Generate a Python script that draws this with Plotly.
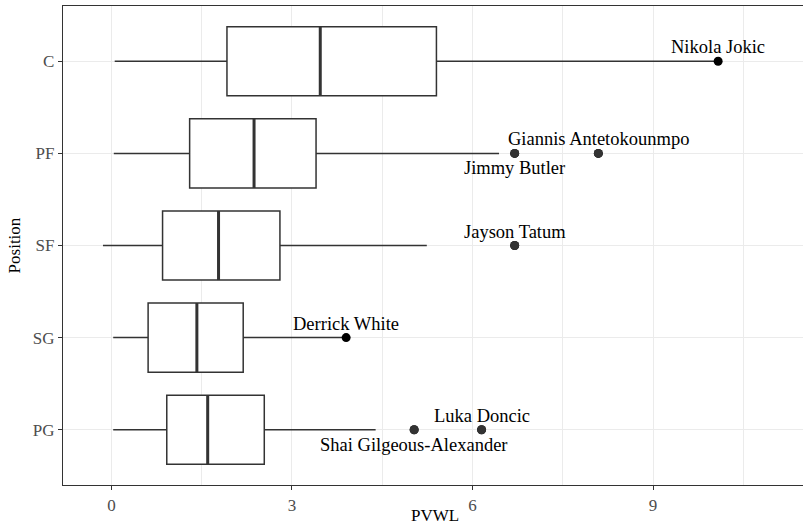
import plotly.graph_objects as go

# ---- data ----
positions = ["PG", "SG", "SF", "PF", "C"]
pos_index = [1, 2, 3, 4, 5]
q1 = [0.92, 0.61, 0.85, 1.30, 1.92]
median = [1.60, 1.42, 1.78, 2.37, 3.47]
q3 = [2.54, 2.19, 2.80, 3.40, 5.40]
lower_whisker = [0.03, 0.03, -0.14, 0.04, 0.055]
upper_whisker = [4.39, 3.90, 5.24, 6.44, 10.08]

outlier_pos = ["PG", "PG", "SF", "PF", "PF"]
outlier_x = [5.03, 6.15, 6.70, 6.70, 8.09]

player_names = ["Nikola Jokic", "Giannis Antetokounmpo", "Jimmy Butler",
                "Jayson Tatum", "Derrick White", "Luka Doncic",
                "Shai Gilgeous-Alexander"]
player_pos = ["C", "PF", "PF", "SF", "SG", "PG", "PG"]
player_pvwl = [10.08, 8.09, 6.70, 6.70, 3.90, 6.15, 5.03]
label_side = ["above", "above", "below", "above", "above", "above", "below"]

x_ticks = [0, 3, 6, 9]
x_minor = [1.5, 4.5, 7.5, 10.5]

# ---- figure ----
FONT = "Liberation Serif"
DARK = "#333333"
BOX_W = 0.75
idx = dict(zip(positions, pos_index))

fig = go.Figure()

fig.add_trace(go.Box(
    y=pos_index, q1=q1, median=median, q3=q3,
    lowerfence=lower_whisker, upperfence=upper_whisker,
    orientation="h", width=BOX_W, whiskerwidth=0,
    fillcolor="white", line=dict(color=DARK, width=1.5),
    boxpoints=False, showlegend=False, hoverinfo="skip",
))

# thick median lines
mx, my = [], []
for m, p in zip(median, pos_index):
    mx += [m, m, None]
    my += [p - BOX_W / 2, p + BOX_W / 2, None]
fig.add_trace(go.Scatter(x=mx, y=my, mode="lines",
                         line=dict(color=DARK, width=3), showlegend=False,
                         hoverinfo="skip"))

# labelled points (black)
fig.add_trace(go.Scatter(
    x=player_pvwl, y=[idx[p] for p in player_pos], mode="markers",
    marker=dict(color="black", size=9), showlegend=False, hoverinfo="skip"))

# boxplot outliers (grey20)
fig.add_trace(go.Scatter(
    x=outlier_x, y=[idx[p] for p in outlier_pos], mode="markers",
    marker=dict(color=DARK, size=9), showlegend=False, hoverinfo="skip"))

for name, p, v, side in zip(player_names, player_pos, player_pvwl, label_side):
    fig.add_annotation(x=v, y=idx[p], text=name, showarrow=False,
                       xanchor="center", yanchor="middle",
                       yshift=14 if side == "above" else -15,
                       font=dict(family=FONT, size=18.5, color="black"))

# axis titles
fig.add_annotation(text="PVWL", xref="paper", yref="paper", x=0.503, y=-0.063,
                   xanchor="center", yanchor="middle", showarrow=False,
                   font=dict(family=FONT, size=17, color="black"))
fig.add_annotation(text="Position", xref="paper", yref="paper", x=-0.065, y=0.5,
                   xanchor="center", yanchor="middle", showarrow=False,
                   textangle=-90,
                   font=dict(family=FONT, size=17, color="black"))

fig.update_layout(
    width=803, height=526, autosize=False,
    margin=dict(l=63, r=0, t=6, b=41),
    paper_bgcolor="white", plot_bgcolor="white",
    font=dict(family=FONT),
    xaxis=dict(range=[-0.804, 11.49], tickvals=x_ticks,
               ticktext=[str(t) for t in x_ticks],
               showgrid=True, gridcolor="#EBEBEB", gridwidth=1.1,
               minor=dict(tickmode="array", tickvals=x_minor, showgrid=True,
                          gridcolor="#EBEBEB", gridwidth=0.6, ticks=""),
               zeroline=False, showline=True, linecolor=DARK, linewidth=1.3,
               mirror=True, ticks="outside", ticklen=4, tickcolor=DARK,
               tickwidth=1, automargin=False,
               tickfont=dict(family=FONT, size=17, color="#4D4D4D")),
    yaxis=dict(range=[0.4, 5.6], tickvals=pos_index, ticktext=positions,
               showgrid=True, gridcolor="#EBEBEB", gridwidth=1.1,
               zeroline=False, showline=True, linecolor=DARK, linewidth=1.3,
               mirror=False, ticks="outside", ticklen=4, tickcolor=DARK,
               tickwidth=1, automargin=False,
               tickfont=dict(family=FONT, size=17, color="#4D4D4D")),
)

fig.write_html("out.html", config={"displayModeBar": False},
               post_script="document.body.style.margin='0';document.body.style.overflow='hidden';")
